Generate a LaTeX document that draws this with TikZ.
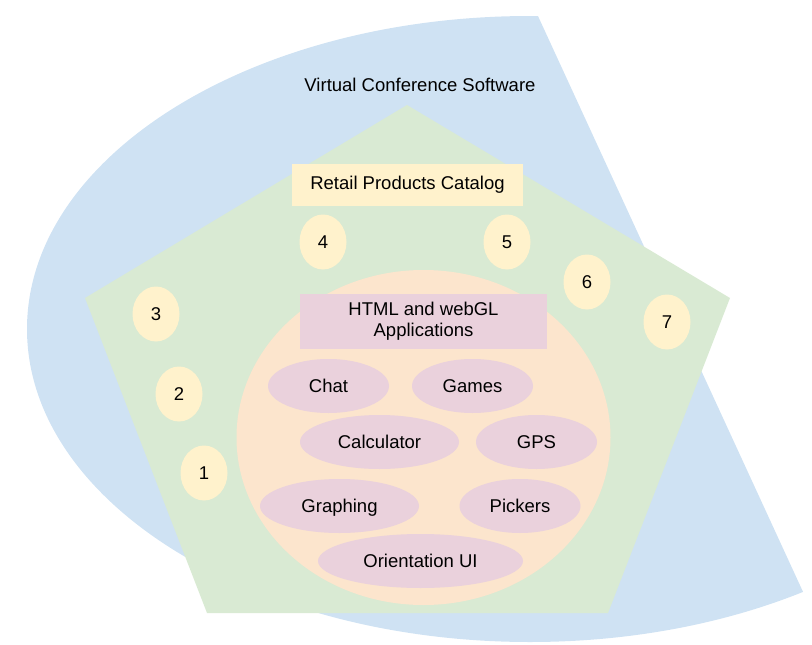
\documentclass[tikz,border=0pt]{standalone}
\usepackage{fontspec}
\setmainfont{Liberation Sans}
\usetikzlibrary{shapes.geometric}
\definecolor{cblue}{HTML}{CFE2F3}
\definecolor{cgreen}{HTML}{D9EAD3}
\definecolor{cpeach}{HTML}{FCE5CD}
\definecolor{cyellow}{HTML}{FFF2CC}
\definecolor{cpink}{HTML}{EAD1DC}
\tikzset{
  lbl/.style={font=\fontsize{18.5}{21}\selectfont, text=black, align=center},
  numnode/.style={lbl, ellipse, fill=cyellow, minimum width=47pt, minimum height=55pt, inner sep=0pt},
  appnode/.style={lbl, ellipse, fill=cpink, minimum height=54pt, inner sep=0pt, text height=13.5pt, text depth=0.5pt},
  boxnode/.style={lbl, rectangle, inner sep=0pt},
}
\begin{document}
\begin{tikzpicture}[x=1pt,y=-1pt]
\useasboundingbox (0,0) rectangle (812,645);
% blue pie-like shape
\begin{scope}
  \clip (507.6,-50) -- (852.8,700) -- (-50,700) -- (-50,-50) -- cycle;
  \fill[cblue] (530,329) ellipse [x radius=503, y radius=313];
\end{scope}
\node[lbl] (vcs) at (420,85) {Virtual Conference Software};
% green pentagon
\fill[cgreen] (407,105) -- (730,298) -- (608,613) -- (207,613) -- (85,298) -- cycle;
% peach circle
\fill[cpeach] (423.5,437.5) ellipse [x radius=187, y radius=167.5];
% boxes
\node[boxnode, fill=cyellow, minimum width=231pt, minimum height=42pt] (rpc) at (407.5,184.5) {Retail Products Catalog};
\node[boxnode, fill=cpink, minimum width=247pt, minimum height=55pt] (html) at (423.5,321.5) {HTML and webGL\\Applications};
% numbers
\node[numnode] (n1) at (204,473) {1};
\node[numnode] (n2) at (179,394) {2};
\node[numnode] (n3) at (156,314) {3};
\node[numnode] (n4) at (323,242) {4};
\node[numnode] (n5) at (507,242) {5};
\node[numnode] (n6) at (587,282) {6};
\node[numnode] (n7) at (667,322) {7};
% apps
\node[appnode, minimum width=121pt] (chat) at (328.5,386) {Chat};
\node[appnode, minimum width=121pt] (games) at (472.5,386) {Games};
\node[appnode, minimum width=159pt] (calc) at (379.5,442) {Calculator};
\node[appnode, minimum width=121pt] (gps) at (536.5,442) {GPS};
\node[appnode, minimum width=159pt] (graph) at (339.5,506) {Graphing};
\node[appnode, minimum width=121pt] (pick) at (520,506) {Pickers};
\node[appnode, minimum width=205pt] (orient) at (420.5,561) {Orientation UI};
\end{tikzpicture}
\end{document}
